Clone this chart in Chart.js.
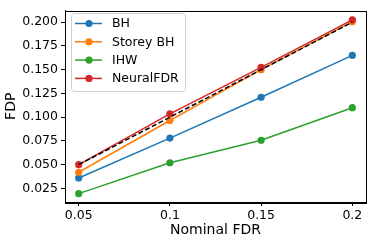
<!DOCTYPE html>
<html>
<head>
<meta charset="utf-8">
<script src="https://cdn.jsdelivr.net/npm/chart.js@4"></script>
<style>
html,body{margin:0;padding:0;background:#fff;}
canvas{display:block;}
</style>
</head>
<body>
<canvas id="c" width="374" height="240"></canvas>
<script>
const nominalFDR = [0.05, 0.1, 0.15, 0.2];
const bhValues = [0.036, 0.078, 0.121, 0.165];
const storeyValues = [0.042, 0.0965, 0.150, 0.2005];
const ihwValues = [0.0195, 0.052, 0.0757, 0.110];
const neuralValues = [0.050, 0.1035, 0.1525, 0.2025];
const idealValues = [0.05, 0.1, 0.15, 0.2];
const xTicks = [0.05, 0.1, 0.15, 0.2];
const xTickLabels = ['0.05', '0.1', '0.15', '0.2'];
const yTicks = [0.025, 0.05, 0.075, 0.1, 0.125, 0.15, 0.175, 0.2];
const yTickLabels = ['0.025', '0.050', '0.075', '0.100', '0.125', '0.150', '0.175', '0.200'];
const seriesNames = ['BH', 'Storey BH', 'IHW', 'NeuralFDR'];
const seriesColors = ['#1f77b4', '#ff7f0e', '#2ca02c', '#d62728'];
const seriesValues = [bhValues, storeyValues, ihwValues, neuralValues];

const FONT = "'DejaVu Sans', sans-serif";

const datasets = seriesValues.map((vals, i) => ({
  label: seriesNames[i],
  data: nominalFDR.map((x, j) => ({x: x, y: vals[j]})),
  borderColor: seriesColors[i],
  backgroundColor: seriesColors[i],
  pointBackgroundColor: seriesColors[i],
  pointBorderWidth: 0,
  pointRadius: 3.6,
  borderWidth: 1.5,
  tension: 0,
  order: 10 - i
}));
datasets.push({
  label: 'ideal',
  data: nominalFDR.map((x, j) => ({x: x, y: idealValues[j]})),
  borderColor: '#000',
  borderWidth: 1.5,
  borderDash: [5, 2.5],
  pointRadius: 0,
  tension: 0,
  order: 0
});

const framePlugin = {
  id: 'frame',
  afterDatasetsDraw(chart) {
    const {ctx, chartArea: a} = chart;
    ctx.save();
    ctx.strokeStyle = '#000';
    ctx.lineWidth = 1;
    ctx.strokeRect(Math.round(a.left) + 0.5, Math.round(a.top) + 0.5, Math.round(a.right - a.left), Math.round(a.bottom - a.top));
    ctx.restore();
  }
};

const legendPlugin = {
  id: 'mplLegend',
  afterDraw(chart) {
    const ctx = chart.ctx;
    const x0 = 71, y0 = 13, w = 114, h = 78;
    ctx.save();
    ctx.beginPath();
    if (ctx.roundRect) ctx.roundRect(x0 + 0.5, y0 + 0.5, w, h, 3); else ctx.rect(x0 + 0.5, y0 + 0.5, w, h);
    ctx.fillStyle = 'rgba(255,255,255,0.85)';
    ctx.fill();
    ctx.strokeStyle = '#d0d0d0';
    ctx.lineWidth = 1;
    ctx.stroke();
    ctx.font = '12.5px ' + FONT;
    ctx.textBaseline = 'middle';
    ctx.textAlign = 'left';
    for (let i = 0; i < seriesNames.length; i++) {
      const cy = 23.5 + i * 18.3;
      ctx.strokeStyle = seriesColors[i];
      ctx.lineWidth = 1.5;
      ctx.beginPath();
      ctx.moveTo(75, cy);
      ctx.lineTo(102, cy);
      ctx.stroke();
      ctx.fillStyle = seriesColors[i];
      ctx.beginPath();
      ctx.arc(89, cy, 3.6, 0, Math.PI * 2);
      ctx.fill();
      ctx.fillStyle = '#000';
      ctx.fillText(seriesNames[i], 112, cy + 0.5);
    }
    ctx.restore();
  }
};

new Chart(document.getElementById('c'), {
  type: 'line',
  data: {datasets: datasets},
  options: {
    responsive: false,
    devicePixelRatio: 1,
    animation: false,
    layout: {padding: {top: 5, right: 8, left: 0, bottom: 0}},
    plugins: {legend: {display: false}, tooltip: {enabled: false}},
    scales: {
      x: {
        type: 'linear',
        min: 0.0425,
        max: 0.2075,
        afterBuildTicks(scale) { scale.ticks = xTicks.map(v => ({value: v})); },
        afterFit(scale) { scale.height = 38; },
        ticks: {
          callback: (v) => { const k = xTicks.findIndex(t => Math.abs(t - v) < 1e-9); return k >= 0 ? xTickLabels[k] : ''; },
          color: '#000',
          font: {family: FONT, size: 12.5},
          padding: 2,
          maxRotation: 0,
          autoSkip: false
        },
        grid: {drawOnChartArea: false, drawTicks: true, tickLength: 4, color: '#000'},
        border: {display: true, color: '#000'},
        title: {display: true, text: 'Nominal FDR', color: '#000', font: {family: FONT, size: 14}, padding: {top: 0, bottom: 1}}
      },
      y: {
        type: 'linear',
        min: 0.0107,
        max: 0.2123,
        afterBuildTicks(scale) { scale.ticks = yTicks.map(v => ({value: v})); },
        afterFit(scale) { scale.width = 65; },
        ticks: {
          callback: (v) => { const k = yTicks.findIndex(t => Math.abs(t - v) < 1e-9); return k >= 0 ? yTickLabels[k] : ''; },
          color: '#000',
          font: {family: FONT, size: 12.5},
          padding: 3,
          autoSkip: false
        },
        grid: {drawOnChartArea: false, drawTicks: true, tickLength: 4, color: '#000'},
        border: {display: true, color: '#000'},
        title: {display: true, text: 'FDP', color: '#000', font: {family: FONT, size: 14}, padding: {top: 3, bottom: 0}}
      }
    }
  },
  plugins: [framePlugin, legendPlugin]
});
</script>
</body>
</html>
